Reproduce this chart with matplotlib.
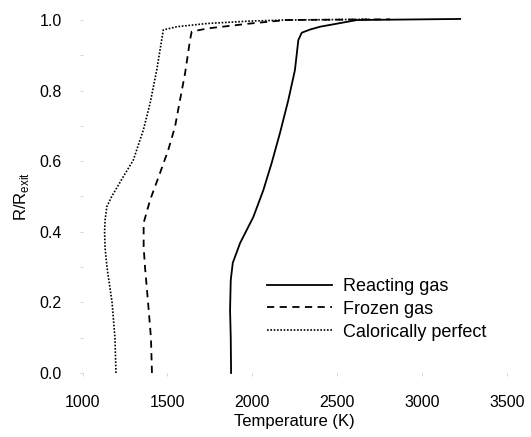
import numpy as np
import matplotlib
matplotlib.use("Agg")
import matplotlib.pyplot as plt
from matplotlib.ticker import MultipleLocator

plt.rcParams['font.family'] = ['Liberation Sans', 'DejaVu Sans']

# reacting gas (solid)
T_react = [1875, 1873, 1869, 1873, 1885, 1928, 2006, 2065, 2114, 2163, 2212,
           2251, 2271, 2291, 2340, 2399, 2617, 3224]
R_react = [0.0, 0.1, 0.178, 0.263, 0.312, 0.368, 0.442, 0.518, 0.595, 0.68,
           0.773, 0.858, 0.943, 0.964, 0.973, 0.981, 1.0, 1.003]

# frozen gas (dashed)
T_frozen = [1409, 1403, 1386, 1368, 1360, 1360, 1398, 1456, 1505, 1545, 1574,
            1604, 1633, 1643, 1692, 1751, 1986, 2200, 2811]
R_frozen = [0.0, 0.1, 0.2, 0.3, 0.358, 0.425, 0.49, 0.566, 0.632, 0.698,
            0.773, 0.849, 0.943, 0.967, 0.972, 0.977, 0.99, 1.0, 1.002]

# calorically perfect (dotted)
T_cal = [1197, 1191, 1174, 1144, 1133, 1130, 1133, 1143, 1172, 1240, 1299,
         1358, 1398, 1437, 1466, 1476, 1555, 1731, 1986, 2200, 2700]
R_cal = [0.0, 0.1, 0.2, 0.3, 0.353, 0.4, 0.433, 0.471, 0.5, 0.556, 0.603,
         0.688, 0.764, 0.858, 0.943, 0.972, 0.981, 0.99, 0.997, 1.0, 1.002]

x_ticks = [1000, 1500, 2000, 2500, 3000, 3500]
y_ticks = [0.0, 0.2, 0.4, 0.6, 0.8, 1.0]

fig = plt.figure(figsize=(5.31, 4.37), dpi=100)
ax = fig.add_axes([0.1554, 0.1465, 0.7994, 0.8077])

ax.plot(T_react, R_react, color='black', lw=1.3, clip_on=False,
        label='Reacting gas')
ax.plot(T_frozen, R_frozen, color='black', lw=1.3, linestyle=(0, (4, 3)),
        clip_on=False, label='Frozen gas')
ax.plot(T_cal, R_cal, color='black', lw=1.2, linestyle=(0, (1, 1)),
        clip_on=False, label='Calorically perfect')

ax.set_xlim(1000, 3500)
ax.set_ylim(0, 1.0)
ax.set_xticks(x_ticks)
ax.set_yticks(y_ticks)
ax.set_yticklabels(['%.1f' % v for v in y_ticks])
ax.yaxis.set_minor_locator(MultipleLocator(0.1))

for s in ax.spines.values():
    s.set_visible(False)
ax.tick_params(which='both', length=2, width=0.6, color='#cccccc',
               labelsize=11.5)
ax.tick_params(axis='x', pad=14)
ax.tick_params(axis='y', pad=13)

ax.set_xlabel('Temperature (K)', fontsize=12, labelpad=3)
ax.set_ylabel(r'R/R$_{\mathregular{exit}}$', fontsize=12, labelpad=6)

ax.legend(loc='upper left', bbox_to_anchor=(267 / 531, 1 - 278 / 437),
          bbox_transform=fig.transFigure, frameon=False, fontsize=13,
          handlelength=3.6, handletextpad=0.6, labelspacing=0.32,
          borderpad=0, borderaxespad=0)

fig.savefig('out.png', dpi=100)
